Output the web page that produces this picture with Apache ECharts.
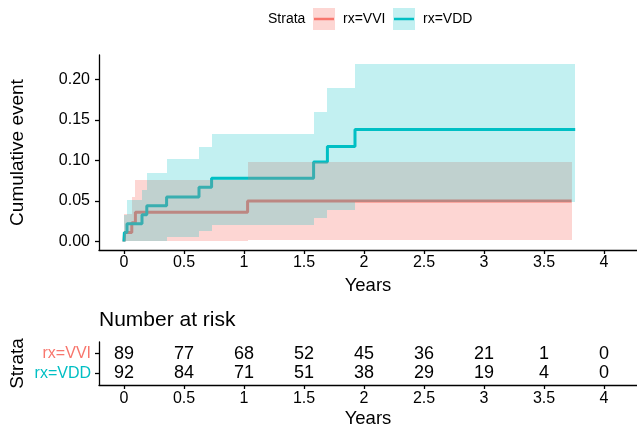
<!DOCTYPE html>
<html><head><meta charset="utf-8">
<script src="https://cdn.jsdelivr.net/npm/echarts@6/dist/echarts.min.js"></script>
<style>html,body{margin:0;padding:0;background:#fff}#c{width:637px;height:430px}</style>
</head><body><div id="c"></div>
<script>
// ---- data ----
const strata = ['rx=VVI', 'rx=VDD'];
const vviTimes = [0, 0.005, 0.065, 0.095, 1.03, 3.73];
const vviEvent = [0, 0.011, 0.023, 0.036, 0.050, 0.050];
const vviBandTimes = [0, 0.065, 0.095, 1.03, 3.73];
const vviLower = [0, 0, 0, 0.002];
const vviUpper = [0.034, 0.055, 0.076, 0.098];
const vddTimes = [0, 0.003, 0.025, 0.15, 0.19, 0.355, 0.625, 0.73, 1.58, 1.695, 1.925, 3.76];
const vddEvent = [0, 0.011, 0.022, 0.033, 0.044, 0.055, 0.067, 0.078, 0.098, 0.117, 0.138, 0.138];
const vddBandTimes = [0, 0.025, 0.15, 0.19, 0.355, 0.625, 0.73, 1.58, 1.695, 1.925, 3.76];
const vddLower = [0, 0, 0, 0, 0.005, 0.013, 0.020, 0.029, 0.039, 0.049];
const vddUpper = [0.033, 0.051, 0.063, 0.084, 0.1015, 0.117, 0.133, 0.160, 0.189, 0.219];
const xTicks = [0, 0.5, 1, 1.5, 2, 2.5, 3, 3.5, 4];
const yTicks = [0, 0.05, 0.10, 0.15, 0.20];
const yTickLabels = ['0.00', '0.05', '0.10', '0.15', '0.20'];
const riskTimes = [0, 0.5, 1, 1.5, 2, 2.5, 3, 3.5, 4];
const riskVVI = [89, 77, 68, 52, 45, 36, 21, 1, 0];
const riskVDD = [92, 84, 71, 51, 38, 29, 19, 4, 0];

const RED = '#F8766D', TEAL = '#00BFC4';
const RED_BAND = 'rgba(248,118,109,0.3)', TEAL_BAND = 'rgba(0,191,196,0.24)';
const FONT = 'Liberation Sans, Arial, sans-serif';

function lineData(t, v) { return t.map((x, i) => [x, v[i]]); }
function bandData(t, lo, hi) {
  const d = [];
  for (let i = 0; i < lo.length; i++) d.push([t[i], t[i + 1], lo[i], hi[i]]);
  return d;
}
function bandRender(color) {
  return function (params, api) {
    const p0 = api.coord([api.value(0), api.value(3)]);
    const p1 = api.coord([api.value(1), api.value(2)]);
    const x0 = Math.round(p0[0]), x1 = Math.round(p1[0]);
    const y0 = Math.round(p0[1]), y1 = Math.round(p1[1]);
    return { type: 'rect', shape: { x: x0, y: y0, width: x1 - x0, height: y1 - y0 }, style: { fill: color } };
  };
}
const riskData = [];
riskTimes.forEach((t, i) => { riskData.push([t, 2, riskVVI[i]]); riskData.push([t, 1, riskVDD[i]]); });

const axisLineStyle = { color: '#000', width: 1.3 };
function xAx(idx, gap, margin) {
  return {
    gridIndex: idx, type: 'value', min: -0.2083, max: 4.275,
    name: 'Years', nameLocation: 'middle', nameGap: gap,
    nameTextStyle: { fontSize: 18.5, color: '#000', fontFamily: FONT },
    axisLine: { show: true, onZero: false, lineStyle: axisLineStyle },
    axisTick: { show: true, customValues: xTicks, length: 4, lineStyle: axisLineStyle },
    axisLabel: { customValues: xTicks, fontSize: 16, color: '#000', margin: margin, fontFamily: FONT },
    splitLine: { show: false }
  };
}
const chart = echarts.init(document.getElementById('c'), null, { renderer: 'canvas' });
chart.setOption({
  animation: false,
  backgroundColor: '#fff',
  textStyle: { fontFamily: FONT },
  grid: [
    { left: 99, right: 0, top: 55, height: 195, outerBoundsMode: 'none', containLabel: false },
    { left: 99, right: 0, top: 342, height: 43, outerBoundsMode: 'none', containLabel: false }
  ],
  xAxis: [xAx(0, 26, 5), xAx(1, 24, 6)],
  yAxis: [
    {
      gridIndex: 0, type: 'value', min: -0.0105, max: 0.23,
      name: 'Cumulative event', nameLocation: 'middle', nameGap: 72, nameRotate: 90,
      nameTextStyle: { fontSize: 19, color: '#000', fontFamily: FONT },
      axisLine: { show: true, onZero: false, lineStyle: axisLineStyle },
      axisTick: { show: true, customValues: yTicks, length: 4, lineStyle: axisLineStyle },
      axisLabel: {
        customValues: yTicks, fontSize: 16, color: '#000', margin: 9, fontFamily: FONT,
        formatter: v => { const i = yTicks.findIndex(t => Math.abs(t - v) < 1e-9); return i >= 0 ? yTickLabels[i] : ''; }
      },
      splitLine: { show: false }
    },
    {
      gridIndex: 1, type: 'value', min: 0.4, max: 2.6,
      name: 'Strata', nameLocation: 'middle', nameGap: 72, nameRotate: 90, nameMoveOverlap: false,
      nameTextStyle: { fontSize: 19, color: '#000', fontFamily: FONT },
      axisLine: { show: true, onZero: false, lineStyle: axisLineStyle },
      axisTick: { show: true, customValues: [1, 2], length: 4, lineStyle: axisLineStyle },
      axisLabel: {
        customValues: [1, 2], fontSize: 16, margin: 8, fontFamily: FONT,
        formatter: v => v === 2 ? '{a|' + strata[0] + '}' : '{b|' + strata[1] + '}',
        rich: { a: { color: RED, fontSize: 16, fontFamily: FONT }, b: { color: TEAL, fontSize: 16, fontFamily: FONT } }
      },
      splitLine: { show: false }
    }
  ],
  graphic: [
    { type: 'text', left: 99, top: 310, style: { text: 'Number at risk', fontSize: 21, fill: '#000', fontFamily: FONT } },
    { type: 'text', x: 268, y: 19, style: { text: 'Strata', fontSize: 14, fill: '#000', fontFamily: FONT, verticalAlign: 'middle' } },
    { type: 'rect', shape: { x: 313, y: 8, width: 22, height: 22 }, style: { fill: RED_BAND } },
    { type: 'line', shape: { x1: 314, y1: 19, x2: 334, y2: 19 }, style: { stroke: RED, lineWidth: 2.5 } },
    { type: 'text', x: 343, y: 19, style: { text: strata[0], fontSize: 14, fill: '#000', fontFamily: FONT, verticalAlign: 'middle' } },
    { type: 'rect', shape: { x: 393, y: 8, width: 22, height: 22 }, style: { fill: TEAL_BAND } },
    { type: 'line', shape: { x1: 394, y1: 19, x2: 414, y2: 19 }, style: { stroke: TEAL, lineWidth: 2.5 } },
    { type: 'text', x: 423, y: 19, style: { text: strata[1], fontSize: 14, fill: '#000', fontFamily: FONT, verticalAlign: 'middle' } }
  ],
  series: [
    { name: strata[0], type: 'line', xAxisIndex: 0, yAxisIndex: 0, step: 'end', showSymbol: false, z: 2,
      data: lineData(vviTimes, vviEvent), lineStyle: { color: RED, width: 3 }, itemStyle: { color: RED } },
    { name: strata[1], type: 'line', xAxisIndex: 0, yAxisIndex: 0, step: 'end', showSymbol: false, z: 2,
      data: lineData(vddTimes, vddEvent), lineStyle: { color: TEAL, width: 3 }, itemStyle: { color: TEAL } },
    { type: 'custom', xAxisIndex: 0, yAxisIndex: 0, z: 3, renderItem: bandRender(RED_BAND),
      data: bandData(vviBandTimes, vviLower, vviUpper), encode: { x: [0, 1], y: [2, 3] }, clip: false, silent: true },
    { type: 'custom', xAxisIndex: 0, yAxisIndex: 0, z: 4, renderItem: bandRender(TEAL_BAND),
      data: bandData(vddBandTimes, vddLower, vddUpper), encode: { x: [0, 1], y: [2, 3] }, clip: false, silent: true },
    { type: 'custom', xAxisIndex: 1, yAxisIndex: 1, z: 3,
      data: riskData, encode: { x: 0, y: 1 }, silent: true,
      renderItem: function (params, api) {
        const p = api.coord([api.value(0), api.value(1)]);
        return { type: 'text', x: p[0], y: p[1], style: { text: String(api.value(2)), fontSize: 18, fill: '#000', fontFamily: FONT, align: 'center', verticalAlign: 'middle' } };
      } }
  ]
});
</script></body></html>
